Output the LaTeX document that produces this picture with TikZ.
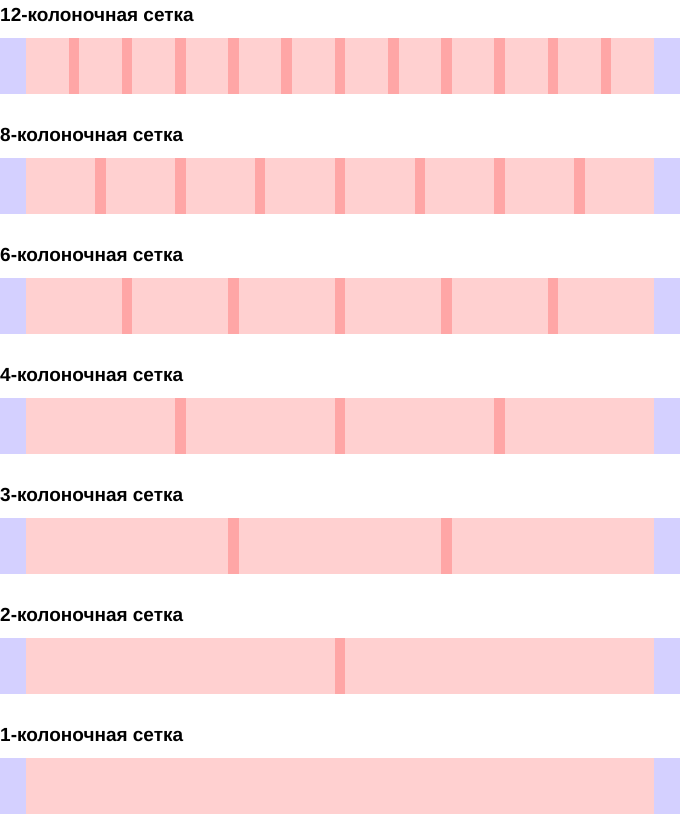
\documentclass[tikz,border=0pt]{standalone}
\usepackage{fontspec}
\setmainfont{Liberation Sans}
\usepackage{xcolor}
\usetikzlibrary{positioning}
\definecolor{gridmargin}{HTML}{D4D0FF}
\definecolor{gridcol}{HTML}{FFD0D0}
\definecolor{gridgutter}{HTML}{FFA6A6}
\tikzset{
  gridtitle/.style={
    anchor=base west,
    inner sep=0pt,
    font=\fontsize{19}{23}\selectfont\bfseries
  },
  barbox/.style={
    fill=gridcol,
    draw=none,
    anchor=north west,
    inner sep=0pt,
    outer sep=0pt,
    minimum width=628pt,
    minimum height=56pt
  },
  marginbox/.style={
    fill=gridmargin,
    draw=none,
    inner sep=0pt,
    outer sep=0pt,
    minimum width=26pt,
    minimum height=56pt
  },
  gutterbox/.style={
    fill=gridgutter,
    draw=none
  }
}
\begin{document}
\begin{tikzpicture}[x=1pt,y=-1pt]
\useasboundingbox (0,0) rectangle (680,815);
\def\gut{10.6}
\foreach \n [count=\r from 0] in {12,8,6,4,3,2,1} {
  \pgfmathsetmacro{\top}{38+120*\r}
  \pgfmathsetmacro{\colw}{(628-(\n-1)*\gut)/\n}
  \node[gridtitle] (title\n) at (0,21+120*\r) {\n-колоночная сетка};
  \node[barbox] (bar\n) at (26,\top) {};
  \node[marginbox, left=0pt of bar\n] (left\n) {};
  \node[marginbox, right=0pt of bar\n] (right\n) {};
  % gutters between the columns
  \ifnum\n>1
    \pgfmathtruncatemacro{\last}{\n-1}
    \foreach \i in {1,...,\last} {
      \fill[gutterbox] (26+\i*\colw+\i*\gut-\gut,\top) rectangle ++(\gut,56);
    }
  \fi
}
\end{tikzpicture}
\end{document}
